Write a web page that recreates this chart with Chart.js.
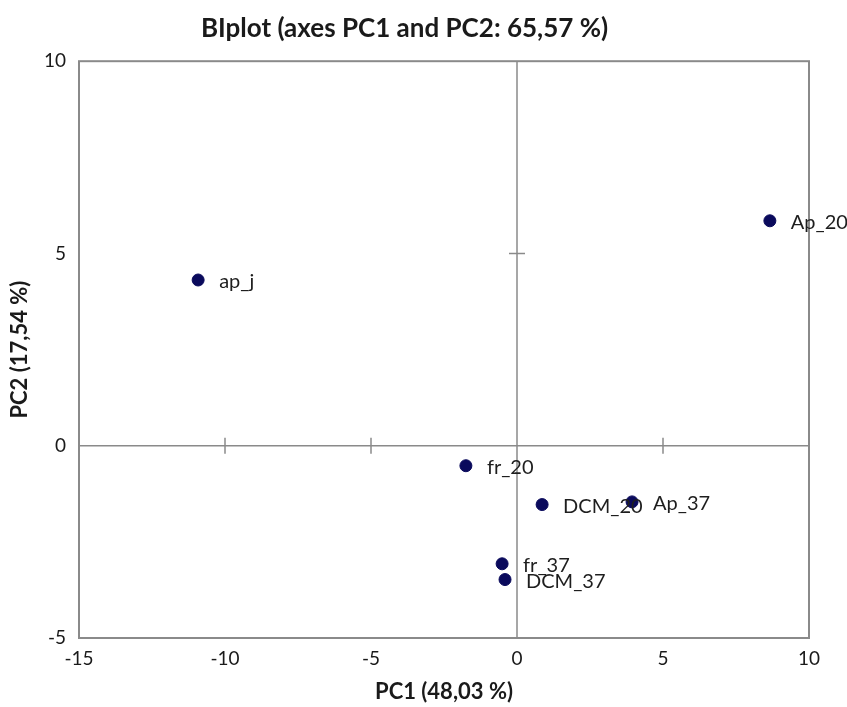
<!DOCTYPE html>
<html>
<head>
<meta charset="utf-8">
<script src="https://cdn.jsdelivr.net/npm/chart.js@4.4.0/dist/chart.umd.min.js"></script>
<style>
  html, body { margin: 0; padding: 0; background: #fff; }
  #wrap { width: 847px; height: 707px; }
</style>
</head>
<body>
<div id="wrap"><canvas id="biplot"></canvas></div>
<script>
// observations (PC1, PC2 scores)
const obsLabels = ['ap_j', 'Ap_20', 'fr_20', 'DCM_20', 'Ap_37', 'fr_37', 'DCM_37'];
const pc1Scores = [-10.92, 8.66, -1.75, 0.86, 3.94, -0.51, -0.41];
const pc2Scores = [4.31, 5.85, -0.52, -1.53, -1.46, -3.07, -3.48];

const xRange = [-15, 10];
const yRange = [-5, 10];
const tickStep = 5;

const FONT = 'Lato, "Open Sans", sans-serif';
const AXIS_GREY = '#8a8a8a';

// frame around plot area, axes through origin with little cross ticks
const biplotAxes = {
    id: 'biplotAxes',
    beforeDatasetsDraw(chart) {
        const { ctx, chartArea: a, scales: { x, y } } = chart;
        const x0 = x.getPixelForValue(0);
        const y0 = y.getPixelForValue(0);
        ctx.save();
        ctx.strokeStyle = AXIS_GREY;
        ctx.lineWidth = 1.5;
        ctx.beginPath();
        ctx.moveTo(a.left, y0); ctx.lineTo(a.right, y0);
        ctx.moveTo(x0, a.top); ctx.lineTo(x0, a.bottom);
        // small ticks on the zero lines (not at the edges, not at 0)
        x.ticks.forEach(t => {
            if (t.value <= xRange[0] || t.value >= xRange[1] || t.value === 0) return;
            const px = x.getPixelForValue(t.value);
            ctx.moveTo(px, y0 - 8); ctx.lineTo(px, y0 + 8);
        });
        y.ticks.forEach(t => {
            if (t.value <= yRange[0] || t.value >= yRange[1] || t.value === 0) return;
            const py = y.getPixelForValue(t.value);
            ctx.moveTo(x0 - 8, py); ctx.lineTo(x0 + 8, py);
        });
        ctx.stroke();
        ctx.lineWidth = 2;
        ctx.strokeRect(a.left, a.top, a.right - a.left, a.bottom - a.top);
        ctx.restore();
    },
    afterDatasetsDraw(chart) {
        // point labels to the right of each marker
        const { ctx } = chart;
        const meta = chart.getDatasetMeta(0);
        ctx.save();
        ctx.font = '20px ' + FONT;
        ctx.fillStyle = '#1e1e1e';
        ctx.textBaseline = 'middle';
        meta.data.forEach((pt, i) => {
            ctx.fillText(obsLabels[i], pt.x + 21, pt.y + 2);
        });
        ctx.restore();
    }
};

new Chart(document.getElementById('biplot'), {
    type: 'scatter',
    data: {
        datasets: [{
            label: 'Observations',
            data: pc1Scores.map((v, i) => ({ x: v, y: pc2Scores[i] })),
            backgroundColor: '#0a0a5c',
            borderColor: '#0a0a5c',
            pointRadius: 6,
            pointHoverRadius: 6
        }]
    },
    options: {
        responsive: true,
        maintainAspectRatio: false,
        animation: false,
        layout: { padding: { left: 0, right: 38, top: 0, bottom: 0 } },
        plugins: {
            legend: { display: false },
            tooltip: { enabled: false },
            title: {
                display: true,
                text: 'BIplot (axes PC1 and PC2: 65,57 %)',
                color: '#1a1a1a',
                font: { family: FONT, size: 26, weight: 'bold' },
                padding: { top: 13, bottom: 17 }
            }
        },
        scales: {
            x: {
                type: 'linear',
                min: xRange[0], max: xRange[1],
                grid: { display: false, drawTicks: false },
                border: { display: false },
                ticks: { stepSize: tickStep, color: '#1a1a1a', padding: 9, font: { family: FONT, size: 19 } },
                title: {
                    display: true, text: 'PC1 (48,03 %)', color: '#1a1a1a',
                    font: { family: FONT, size: 22, weight: 'bold' },
                    padding: { top: 0, bottom: 2 }
                },
                afterFit(scale) { scale.height = 69; }
            },
            y: {
                type: 'linear',
                min: yRange[0], max: yRange[1],
                grid: { display: false, drawTicks: false },
                border: { display: false },
                ticks: { stepSize: tickStep, color: '#1a1a1a', padding: 13, font: { family: FONT, size: 19 } },
                title: {
                    display: true, text: 'PC2 (17,54 %)', color: '#1a1a1a',
                    font: { family: FONT, size: 22, weight: 'bold' },
                    padding: { top: 7, bottom: 0 }
                },
                afterFit(scale) { scale.width = 79; }
            }
        }
    },
    plugins: [biplotAxes]
});
</script>
</body>
</html>
